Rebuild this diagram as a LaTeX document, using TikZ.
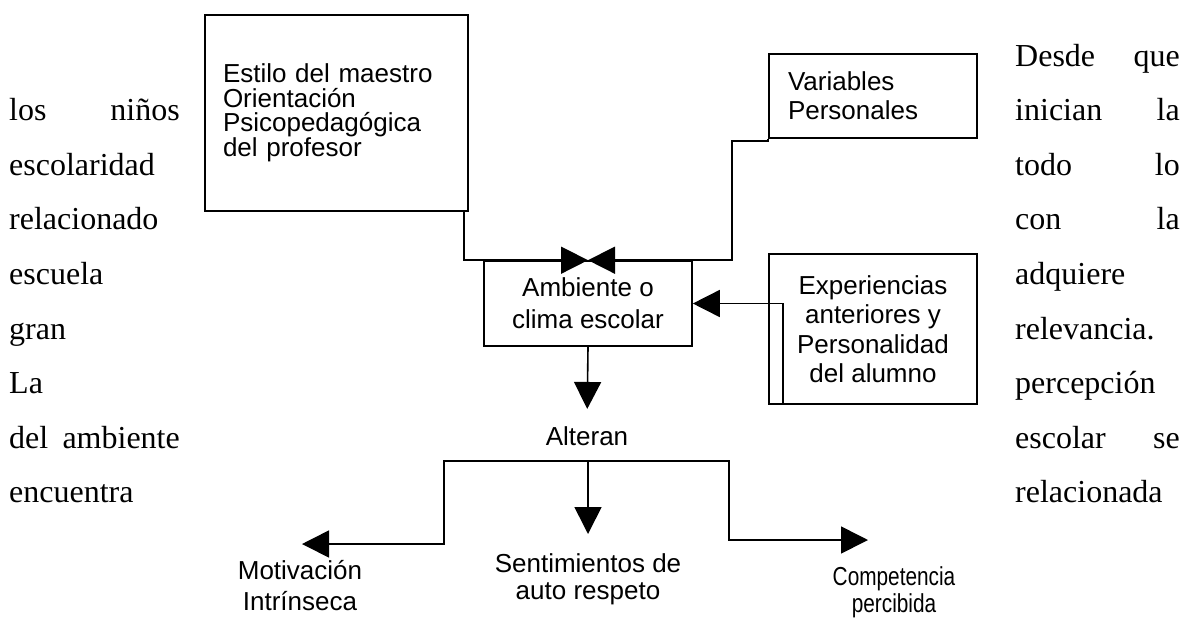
\documentclass[tikz,border=0pt]{standalone}
\usepackage{fontspec}
\setmainfont{Liberation Serif}
\newfontfamily\arialf{Liberation Sans}
\newfontfamily\narrowf[FakeStretch=0.8]{Liberation Sans}
\usetikzlibrary{arrows.meta}
\begin{document}
\begin{tikzpicture}[x=1pt,y=-1pt,
  box/.style={draw, line width=1.6pt, inner ysep=0pt},
  arr/.style={line width=1.6pt, -{Triangle[length=27pt,width=27pt]}},
  body/.style={inner sep=0pt, font=\fontsize{32}{36}\selectfont},
  lbl/.style={inner sep=0pt, align=center}]
\useasboundingbox (0,0) rectangle (1190,619);

% ---- body text, left column
\node[body, anchor=base west] (l1a) at (9,120.6) {los};
\node[body, anchor=base east] (l1b) at (180,120.6) {niños};
\node[body, anchor=base west] (l2) at (9,175.2) {escolaridad};
\node[body, anchor=base west] (l3) at (9,229.8) {relacionado};
\node[body, anchor=base west] (l4) at (9,284.4) {escuela};
\node[body, anchor=base west] (l5) at (9,339) {gran};
\node[body, anchor=base west] (l6) at (9,393.6) {La};
\node[body, anchor=base west] (l7a) at (9,448.2) {del};
\node[body, anchor=base east] (l7b) at (180,448.2) {ambiente};
\node[body, anchor=base west] (l8) at (9,502.8) {encuentra};

% ---- body text, right column
\node[body, anchor=base west] (r0a) at (1015,66) {Desde};
\node[body, anchor=base east] (r0b) at (1180,66) {que};
\node[body, anchor=base west] (r1a) at (1015,120.6) {inician};
\node[body, anchor=base east] (r1b) at (1180,120.6) {la};
\node[body, anchor=base west] (r2a) at (1015,175.2) {todo};
\node[body, anchor=base east] (r2b) at (1180,175.2) {lo};
\node[body, anchor=base west] (r3a) at (1015,229.8) {con};
\node[body, anchor=base east] (r3b) at (1180,229.8) {la};
\node[body, anchor=base west] (r4) at (1015,284.4) {adquiere};
\node[body, anchor=base west] (r5) at (1015,339) {relevancia.};
\node[body, anchor=base west] (r6) at (1015,393.6) {percepción};
\node[body, anchor=base west] (r7a) at (1015,448.2) {escolar};
\node[body, anchor=base east] (r7b) at (1180,448.2) {se};
\node[body, anchor=base west] (r8) at (1015,502.8) {relacionada};

% ---- boxes
\node[box, minimum height=196pt, inner xsep=18pt, text width=227pt, align=left,
      font=\arialf\fontsize{26}{24.5}\selectfont] (estilo) at (336.5,113)
  {Estilo del maestro\\Orientación\\Psicopedagógica\\del profesor};
\node[box, minimum height=84pt, inner xsep=19pt, text width=170pt, align=left,
      font=\arialf\fontsize{26}{28.7}\selectfont] (variables) at (873,96)
  {Variables\\Personales};
\node[box, minimum height=85pt, minimum width=208pt, align=center,
      font=\arialf\fontsize{26}{32}\selectfont] (ambiente) at (588,303.5)
  {Ambiente o\\clima escolar};
\node[box, minimum height=150pt, minimum width=208pt, align=center,
      font=\arialf\fontsize{26}{29.5}\selectfont] (exper) at (873,329)
  {Experiencias\\anteriores y\\Personalidad\\del alumno};

% ---- labels without frame
\node[lbl, anchor=base, font=\arialf\fontsize{26}{29}\selectfont] (alteran) at (587,445) {Alteran};
\node[lbl, anchor=north, font=\arialf\fontsize{26}{31}\selectfont] (motiv) at (300,560) {Motivación\\Intrínseca};
\node[lbl, anchor=north, font=\arialf\fontsize{26}{27}\selectfont] (sentim) at (588,553) {Sentimientos de\\auto respeto};
\node[lbl, anchor=north, font=\narrowf\fontsize{26}{27}\selectfont] (compet) at (894,566) {Competencia\\percibida};

% ---- junctions and arrow ends
\coordinate (fork) at (588,461);
\coordinate (lc) at (444,544);
\coordinate (rc) at (729,540);
\coordinate (tipM) at (302,544);
\coordinate (tipC) at (868,540);

% ---- connectors
\draw[arr] ([xshift=-5pt]estilo.south east) |- (ambiente.north);
\draw[arr] (variables.south west) -- ++(0,2) -- ++(-36,0) |- (ambiente.north);
\draw[arr] ([xshift=15pt]exper.south west) |- (ambiente.east);
\draw[arr, shorten >=17pt] (ambiente.south) -- (alteran.north);
\draw[arr, shorten >=19pt] (fork) -- (sentim.north);
\draw[arr] (fork) -| (lc) -- (tipM);
\draw[arr] (fork) -| (rc) -- (tipC);
\end{tikzpicture}
\end{document}
